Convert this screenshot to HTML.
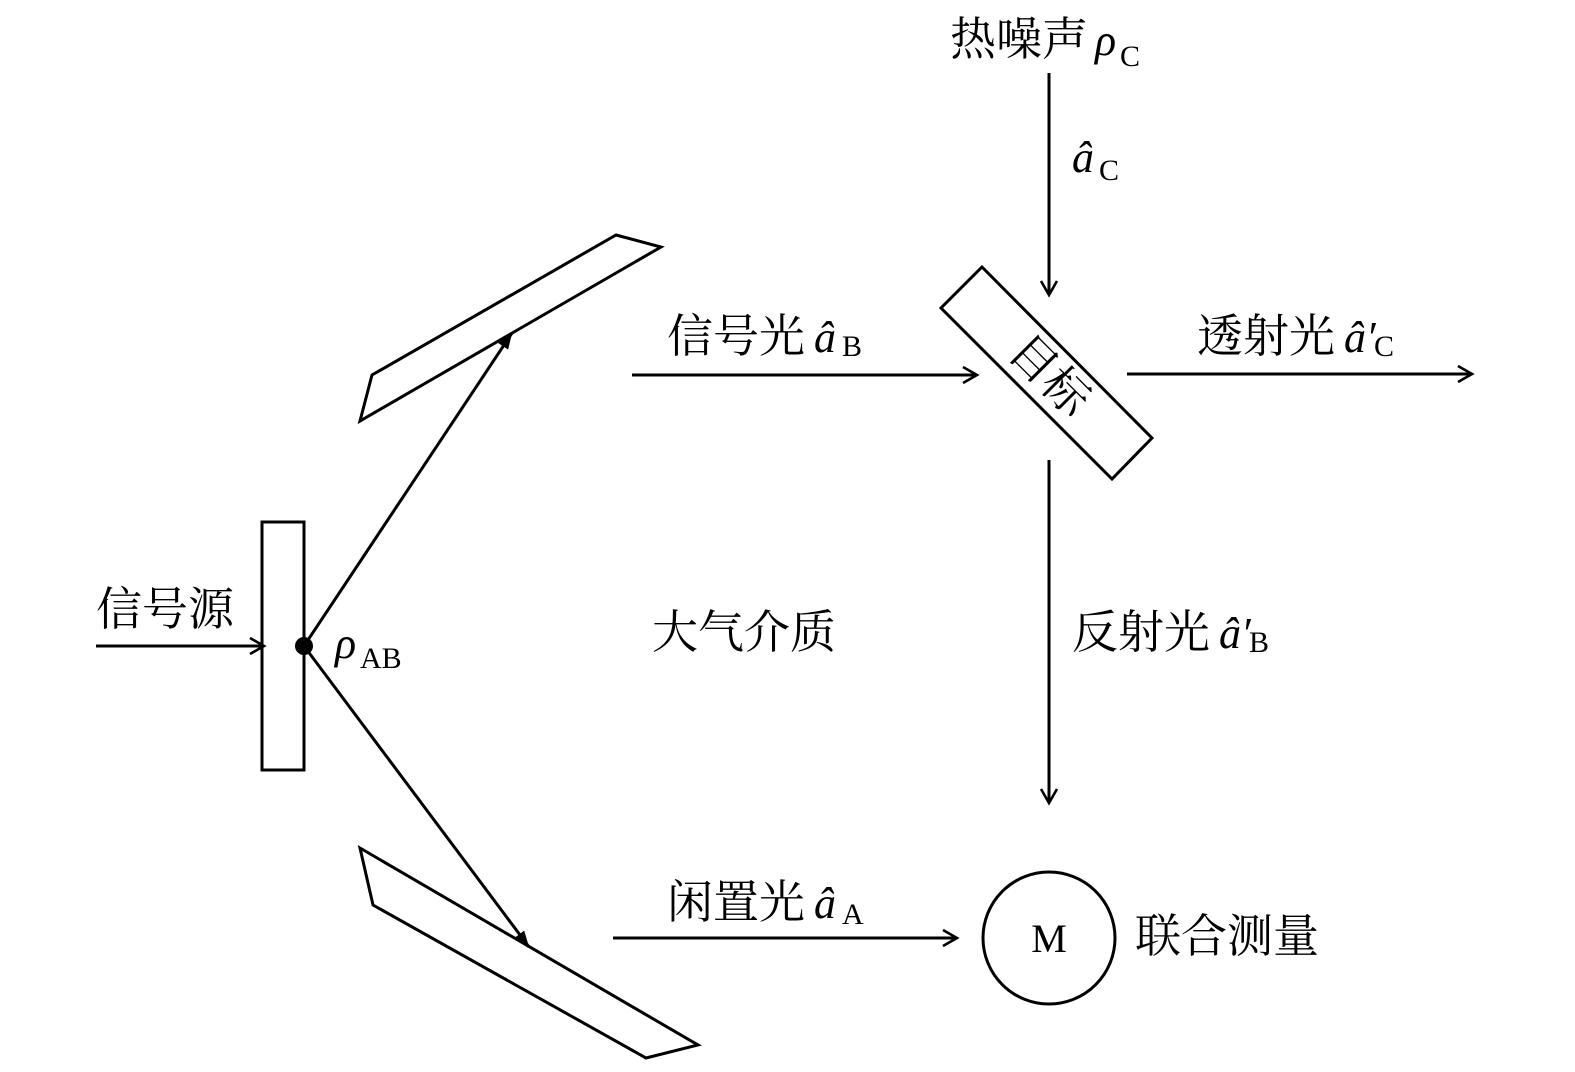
<!DOCTYPE html>
<html><head><meta charset="utf-8"><style>
html,body{margin:0;padding:0;background:#fff;}
svg{display:block}
.c{font-family:"Noto Serif CJK SC","WenQuanYi Zen Hei",serif;font-size:46px;fill:#000}
.m{font-family:"Liberation Serif",serif;font-style:italic;font-size:44px;fill:#000}
.s{font-family:"Liberation Serif",serif;font-size:30px;fill:#000}
</style></head><body>
<svg width="1575" height="1072" viewBox="0 0 1575 1072" xmlns="http://www.w3.org/2000/svg">
<defs>
<marker id="a" markerWidth="20" markerHeight="20" refX="17" refY="10" orient="auto" markerUnits="userSpaceOnUse">
<path d="M3,2 L17,10 L3,18" fill="none" stroke="#000" stroke-width="2.6"/>
</marker>
<marker id="f" markerWidth="20" markerHeight="20" refX="18" refY="10" orient="auto" markerUnits="userSpaceOnUse">
<path d="M2,4 L18,10 L2,16 Z" fill="#000"/>
</marker>
</defs>
<g fill="none" stroke="#000" stroke-width="3">
<rect x="262" y="522" width="42" height="248" fill="#fff"/>
<polygon points="616,235 661,247 360,421 372,375"/>
<polygon points="360,848 698,1045 646,1058 373,905"/>
<polygon points="982,267 1152,438 1112,479 941,308"/>
<circle cx="1049" cy="938" r="66"/>
<line x1="304" y1="646" x2="512" y2="333" marker-end="url(#f)"/>
<line x1="304" y1="646" x2="529" y2="947" marker-end="url(#f)"/>
<line x1="96" y1="646" x2="264" y2="646" marker-end="url(#a)"/>
<line x1="632" y1="375" x2="977" y2="375" marker-end="url(#a)"/>
<line x1="1127" y1="374" x2="1472" y2="374" marker-end="url(#a)"/>
<line x1="1049" y1="73" x2="1049" y2="295" marker-end="url(#a)"/>
<line x1="1049" y1="460" x2="1049" y2="803" marker-end="url(#a)"/>
<line x1="613" y1="938" x2="957" y2="938" marker-end="url(#a)"/>
</g>
<circle cx="304" cy="646" r="9" fill="#000"/>
<text class="c" x="950" y="55">热噪声</text><text class="m" x="1095" y="55">ρ</text><text class="s" x="1120" y="66">C</text>
<text class="m" x="1072" y="172">â</text><text class="s" x="1099" y="180">C</text>
<text class="c" x="667" y="352">信号光</text><text class="m" x="814" y="352">â</text><text class="s" x="842" y="356">B</text>
<text class="c" x="1197" y="352">透射光</text><text class="m" x="1344" y="352">â′</text><text class="s" x="1374" y="356">C</text>
<text class="c" x="1072" y="648">反射光</text><text class="m" x="1219" y="648">â′</text><text class="s" x="1249" y="652">B</text>
<text class="c" x="96" y="625">信号源</text>
<text class="m" x="335" y="658">ρ</text><text class="s" x="360" y="668">AB</text>
<text class="c" x="652" y="648">大气介质</text>
<text class="c" x="667" y="918">闲置光</text><text class="m" x="814" y="918">â</text><text class="s" x="842" y="924">A</text>
<text class="c" x="1135" y="952">联合测量</text>
<text class="s" x="1049" y="952" text-anchor="middle" style="font-size:40px">M</text>
<text class="c" x="1050" y="391" text-anchor="middle" transform="rotate(45 1050 375)">目标</text>
</svg>
</body></html>
